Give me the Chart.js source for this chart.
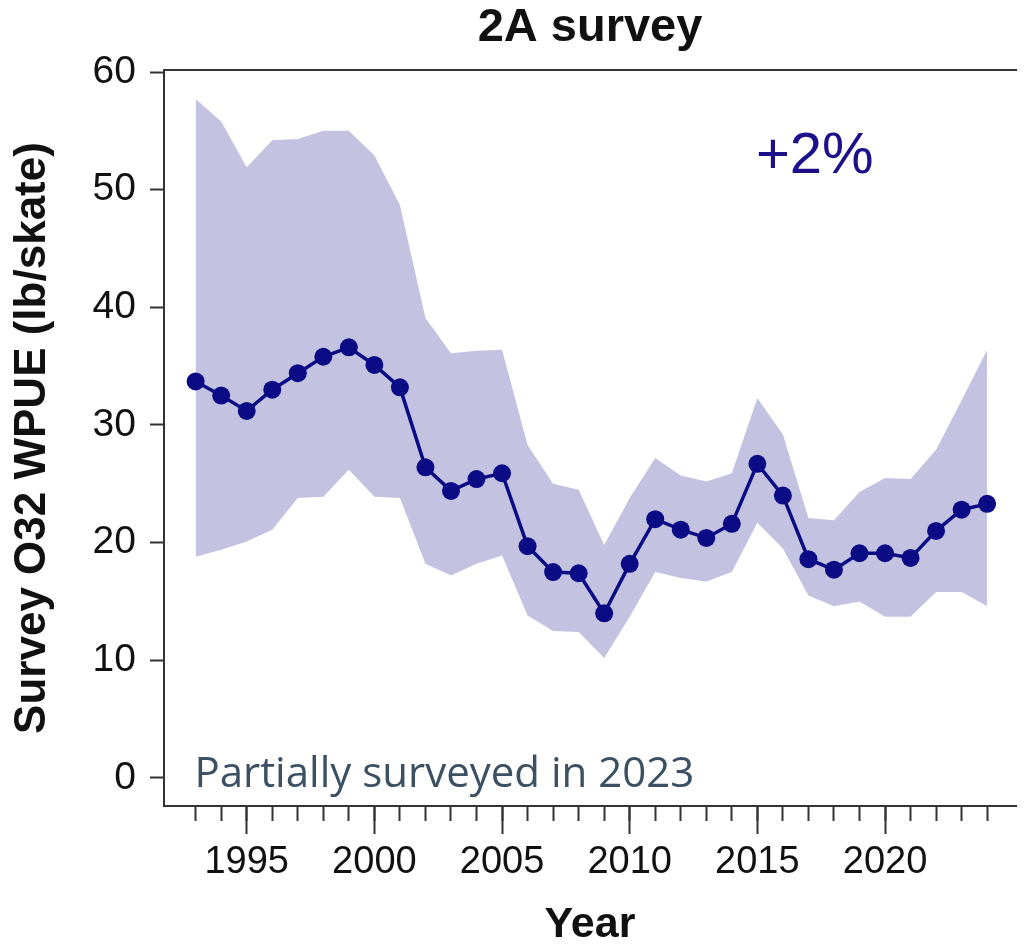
<!DOCTYPE html>
<html>
<head>
<meta charset="utf-8">
<script src="https://cdn.jsdelivr.net/npm/chart.js@4.4.1/dist/chart.umd.min.js"></script>
<style>
html,body{margin:0;padding:0;background:#fff;overflow:hidden;}
#wrap{position:relative;width:1025px;height:952px;}
</style>
</head>
<body>
<div id="wrap"><canvas id="c" width="1025" height="952"></canvas></div>
<script>
const years = [1993,1994,1995,1996,1997,1998,1999,2000,2001,2002,2003,2004,2005,2006,2007,2008,2009,2010,2011,2012,2013,2014,2015,2016,2017,2018,2019,2020,2021,2022,2023,2024];
const wpue  = [33.7,32.5,31.2,33.0,34.4,35.8,36.6,35.1,33.2,26.4,24.4,25.4,25.9,19.7,17.5,17.4,14.0,18.2,22.0,21.1,20.4,21.6,26.7,24.0,18.6,17.7,19.1,19.1,18.7,21.0,22.8,23.3];
const upperCI = [57.7,55.8,51.9,54.2,54.3,55.0,55.0,52.9,48.7,39.1,36.1,36.3,36.4,28.3,25.0,24.5,19.8,23.8,27.2,25.7,25.2,25.9,32.3,29.2,22.1,21.9,24.3,25.5,25.4,27.9,32.1,36.4];
const lowerCI = [18.8,19.4,20.1,21.1,23.8,23.9,26.2,23.9,23.8,18.2,17.2,18.2,18.9,13.8,12.5,12.4,10.2,13.7,17.5,17.0,16.7,17.5,21.7,19.5,15.5,14.6,15.0,13.7,13.7,15.8,15.8,14.6];
const yTicks = [0,10,20,30,40,50,60];
const majorYears = [1995,2000,2005,2010,2015,2020];
const titleText = '2A survey';
const xTitle = 'Year';
const yTitle = 'Survey O32 WPUE (lb/skate)';
const changeLabel = '+2%';
const noteLabel = 'Partially surveyed in 2023';

const NAVY = '#0b0b85';
const BAND = 'rgba(0,0,128,0.235)';
const AXIS = '#333333';
const TXT = '#111111';

const toXY = arr => years.map((y,i)=>({x:y, y:arr[i]}));

const notes = {
  id:'notes',
  afterDatasetsDraw(chart){
    const {ctx, scales} = chart;
    ctx.save();
    ctx.fillStyle = '#1c0f8a';
    ctx.font = '58px "Liberation Sans", Arial, sans-serif';
    ctx.textAlign = 'center';
    ctx.textBaseline = 'alphabetic';
    ctx.fillText(changeLabel, scales.x.getPixelForValue(2017.25), scales.y.getPixelForValue(51.45));
    ctx.fillStyle = '#3b5063';
    ctx.font = '42px "Open Sans", Lato, sans-serif';
    ctx.textAlign = 'left';
    ctx.fillText(noteLabel, scales.x.getPixelForValue(1992.95), scales.y.getPixelForValue(-0.75));
    ctx.restore();
  }
};

new Chart(document.getElementById('c'), {
  type:'line',
  data:{
    datasets:[
      {label:'upper', data:toXY(upperCI), borderWidth:0, pointRadius:0, fill:'+1', backgroundColor:BAND, borderColor:'rgba(0,0,0,0)', tension:0, order:3},
      {label:'lower', data:toXY(lowerCI), borderWidth:0, pointRadius:0, fill:false, borderColor:'rgba(0,0,0,0)', tension:0, order:2},
      {label:'WPUE', data:toXY(wpue), borderColor:NAVY, backgroundColor:NAVY, borderWidth:3.5, pointRadius:9, pointBackgroundColor:NAVY, pointBorderWidth:0, fill:false, tension:0, order:1}
    ]
  },
  options:{
    responsive:false,
    animation:false,
    layout:{padding:0},
    plugins:{legend:{display:false}, tooltip:{enabled:false}, title:{display:false}},
    scales:{
      x:{
        type:'linear', position:'bottom', min:1991.76, max:2025.13,
        afterFit:s=>{s.height=146;},
        afterBuildTicks:s=>{s.ticks = majorYears.map(v=>({value:v}));},
        ticks:{autoSkip:false, maxRotation:0, padding:6, color:TXT, font:{family:'"Liberation Sans", Arial, sans-serif', size:38}, callback:v=>String(v)},
        grid:{drawOnChartArea:false, drawTicks:true, tickLength:28, color:AXIS, tickWidth:2},
        border:{display:true, color:AXIS, width:2},
        title:{display:true, text:xTitle, color:TXT, font:{family:'"Liberation Sans", Arial, sans-serif', size:43, weight:'bold'}, padding:{top:0,bottom:1}}
      },
      xMinor:{
        type:'linear', position:{y:-2.38}, min:1991.76, max:2025.13,
        afterBuildTicks:s=>{s.ticks = years.map(v=>({value:v}));},
        ticks:{display:false},
        grid:{drawOnChartArea:false, drawTicks:true, tickLength:15, color:AXIS, tickWidth:2},
        border:{display:false}
      },
      xTop:{
        type:'linear', position:'top', min:1991.76, max:2025.13,
        afterFit:s=>{s.height=70;},
        ticks:{display:false},
        grid:{display:false, drawTicks:false},
        border:{display:true, color:AXIS, width:2},
        title:{display:true, text:titleText, color:TXT, font:{family:'"Liberation Sans", Arial, sans-serif', size:47, weight:'bold'}, padding:{top:0,bottom:6}}
      },
      y:{
        type:'linear', position:'left', min:-2.38, max:60.17,
        afterFit:s=>{s.width=164;},
        afterBuildTicks:s=>{s.ticks = yTicks.map(v=>({value:v}));},
        ticks:{padding:14, color:TXT, font:{family:'"Liberation Sans", Arial, sans-serif', size:39}},
        grid:{drawOnChartArea:false, drawTicks:true, tickLength:14, color:AXIS, tickWidth:2},
        border:{display:true, color:AXIS, width:2},
        title:{display:true, text:yTitle, color:TXT, font:{family:'"Liberation Sans", Arial, sans-serif', size:44, weight:'bold'}, padding:{top:6,bottom:0}}
      }
    }
  },
  plugins:[notes]
});
</script>
</body>
</html>
